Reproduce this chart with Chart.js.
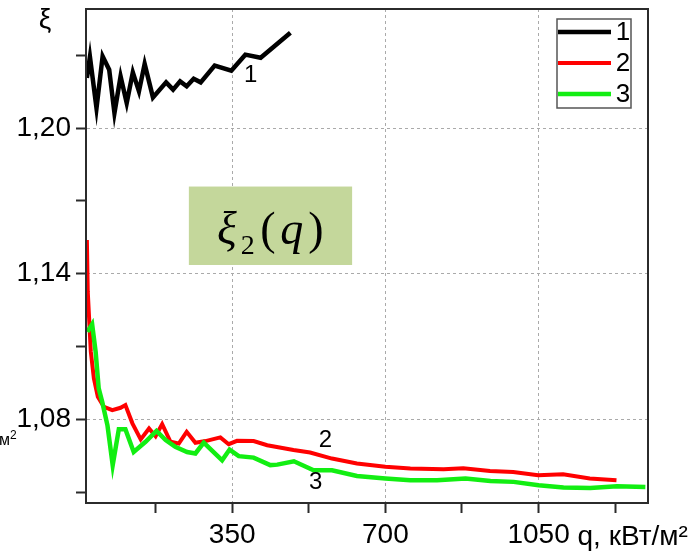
<!DOCTYPE html>
<html><head><meta charset="utf-8">
<script src="https://cdn.jsdelivr.net/npm/chart.js@4.4.0/dist/chart.umd.min.js"></script>
<style>html,body{margin:0;padding:0;background:#fff;overflow:hidden}canvas{display:block}</style>
</head><body>
<canvas id="c" width="691" height="551"></canvas>
<script>
// ---- data ----
const seriesNames = ['1', '2', '3'];
const qBlack = [18, 25, 40, 54, 69, 81, 95, 109, 123, 137, 150, 169, 199, 215, 231, 246, 262, 278, 310, 348, 380, 415, 483];
const xiBlack = [1.2206, 1.2293, 1.2082, 1.2295, 1.2240, 1.2062, 1.2213, 1.2103, 1.2229, 1.2151, 1.2264, 1.2126, 1.2188, 1.2158, 1.2192, 1.2172, 1.2203, 1.2188, 1.2257, 1.2236, 1.2302, 1.2289, 1.2392];
const qRed = [18, 20, 27, 34, 43, 57, 76, 95, 106, 122, 141, 160, 175, 190, 209, 228, 246, 266, 289, 323, 342, 361, 399, 430, 490, 528, 578, 635, 700, 757, 833, 878, 939, 992, 1049, 1106, 1167, 1228];
const xiRed = [1.1539, 1.1326, 1.1079, 1.0969, 1.0893, 1.0852, 1.0838, 1.0848, 1.0859, 1.0784, 1.0718, 1.0763, 1.0731, 1.0781, 1.0708, 1.0701, 1.0749, 1.0704, 1.0711, 1.0726, 1.0698, 1.0712, 1.0711, 1.0694, 1.0674, 1.0664, 1.0639, 1.0619, 1.0605, 1.0598, 1.0595, 1.0599, 1.0588, 1.0584, 1.0570, 1.0574, 1.0557, 1.0550];
const qGreen = [19, 30, 38, 45, 53, 65, 77, 91, 106, 125, 152, 177, 198, 220, 247, 266, 285, 327, 344, 365, 399, 437, 453, 491, 536, 578, 635, 700, 757, 818, 883, 940, 993, 1050, 1107, 1168, 1229, 1294];
const xiGreen = [1.1161, 1.1192, 1.1079, 1.0928, 1.0873, 1.0776, 1.0612, 1.0760, 1.0760, 1.0666, 1.0708, 1.0753, 1.0715, 1.0687, 1.0666, 1.0660, 1.0705, 1.0632, 1.0676, 1.0649, 1.0643, 1.0612, 1.0614, 1.0628, 1.0591, 1.0591, 1.0567, 1.0557, 1.0550, 1.0550, 1.0557, 1.0547, 1.0543, 1.0529, 1.0520, 1.0518, 1.0525, 1.0522];
const xTickValues = [175, 350, 525, 700, 875, 1050, 1225];
const yTickValues = [1.05, 1.08, 1.11, 1.14, 1.17, 1.20, 1.23];
const xTitle = 'q, кВт/м²';
const yTitle = 'ξ';
const leftStray = ['м', '2'];

const FONT = '"Liberation Sans", Arial, sans-serif';
const SERIF = '"Liberation Serif", "DejaVu Serif", serif';
const colors = ['#000000', '#ff0000', '#12ee12'];

const pts = (xs, ys) => xs.map((v, i) => ({x: v, y: ys[i]}));
const isMajorX = v => Math.round(v) % 350 === 0;
const isMajorY = v => Math.round(v * 100) % 6 === 0;

const decor = {
  id: 'decor',
  beforeDatasetsDraw(chart) {
    const {ctx} = chart;
    const xs = chart.scales.x, ys = chart.scales.y;
    const l = xs.getPixelForValue(251), r = xs.getPixelForValue(624);
    const t = ys.getPixelForValue(1.1759), b = ys.getPixelForValue(1.1436);
    ctx.save();
    ctx.setLineDash([]);
    ctx.fillStyle = '#c4d79b';
    ctx.fillRect(l, t, r - l, b - t);
    ctx.fillStyle = '#000';
    ctx.textAlign = 'center';
    ctx.textBaseline = 'alphabetic';
    const base = t + 57;
    ctx.font = 'italic 46px ' + SERIF;
    ctx.fillText('ξ', l + 38, base);
    ctx.font = '28px ' + SERIF;
    ctx.fillText('2', l + 59, base + 10);
    ctx.font = '46px ' + SERIF;
    ctx.fillText('(', l + 79, base);
    ctx.font = 'italic 46px ' + SERIF;
    ctx.fillText('q', l + 103, base);
    ctx.font = '46px ' + SERIF;
    ctx.fillText(')', l + 127, base);
    ctx.restore();
  },
  afterDraw(chart) {
    const {ctx, chartArea: ca} = chart;
    const xs = chart.scales.x, ys = chart.scales.y;
    ctx.save();
    ctx.setLineDash([]);
    // frame
    ctx.strokeStyle = '#2b2b2b';
    ctx.lineWidth = 2;
    ctx.strokeRect(ca.left, ca.top, ca.right - ca.left, ca.bottom - ca.top);
    // legend
    const lx = 557, ly = 19, lw = 74, lh = 89;
    ctx.fillStyle = '#fff';
    ctx.fillRect(lx, ly, lw, lh);
    ctx.strokeStyle = '#555';
    ctx.lineWidth = 1.5;
    ctx.strokeRect(lx, ly, lw, lh);
    const rows = [32, 63, 94];
    const widths = [4.5, 4, 4.5];
    ctx.font = '26px ' + FONT;
    ctx.textAlign = 'center';
    ctx.textBaseline = 'middle';
    seriesNames.forEach((n, i) => {
      ctx.strokeStyle = colors[i];
      ctx.lineWidth = widths[i];
      ctx.beginPath();
      ctx.moveTo(lx + 1, rows[i]);
      ctx.lineTo(lx + 54, rows[i]);
      ctx.stroke();
      ctx.fillStyle = '#000';
      ctx.fillText(n, lx + 66, rows[i] + 1);
    });
    // curve labels
    ctx.font = '24px ' + FONT;
    ctx.fillText(seriesNames[0], xs.getPixelForValue(392), ys.getPixelForValue(1.2218));
    ctx.fillText(seriesNames[1], xs.getPixelForValue(563), ys.getPixelForValue(1.0715));
    ctx.fillText(seriesNames[2], xs.getPixelForValue(541), ys.getPixelForValue(1.0540));
    // axis titles
    ctx.font = '28px ' + FONT;
    ctx.textAlign = 'left';
    ctx.textBaseline = 'alphabetic';
    const w1050 = ctx.measureText('1050').width;
    const sp = ctx.measureText(' ').width;
    ctx.fillText(xTitle, xs.getPixelForValue(1050) + w1050 / 2 + sp, 545);
    ctx.textAlign = 'center';
    ctx.fillText(yTitle, 45, 28);
    ctx.textAlign = 'left';
    ctx.font = '16px ' + FONT;
    ctx.fillText(leftStray[0], -1, 445);
    const wm = ctx.measureText(leftStray[0]).width;
    ctx.font = '12px ' + FONT;
    ctx.fillText(leftStray[1], -1 + wm, 439);
    ctx.restore();
  }
};

const gridOpts = isMajor => ({
  color: c => (c.tick && isMajor(c.tick.value)) ? '#aaaaaa' : 'rgba(0,0,0,0)',
  lineWidth: 1,
  tickColor: '#2b2b2b', tickLength: 10, tickWidth: 2, tickBorderDash: []
});
const borderOpts = {display: true, color: '#2b2b2b', width: 2, dash: [3, 3]};

new Chart(document.getElementById('c'), {
  type: 'line',
  data: {
    datasets: [
      {label: seriesNames[0], data: pts(qBlack, xiBlack), borderColor: colors[0], borderWidth: 4.5, order: 2},
      {label: seriesNames[1], data: pts(qRed, xiRed), borderColor: colors[1], borderWidth: 4, order: 1},
      {label: seriesNames[2], data: pts(qGreen, xiGreen), borderColor: colors[2], borderWidth: 4.5, order: 0}
    ]
  },
  options: {
    responsive: false,
    animation: false,
    devicePixelRatio: 1,
    elements: {point: {radius: 0}, line: {tension: 0, fill: false, borderDash: []}},
    layout: {padding: {left: 0, top: 9, right: 43, bottom: 0}},
    plugins: {legend: {display: false}, tooltip: {enabled: false}},
    scales: {
      x: {
        type: 'linear', min: 16, max: 1300,
        afterBuildTicks: s => { s.ticks = xTickValues.map(v => ({value: v})); },
        afterFit: s => { s.height = 48; s.paddingLeft = 0; s.paddingRight = 0; },
        ticks: {
          autoSkip: false, maxRotation: 0, padding: 5, color: '#000',
          font: {family: FONT, size: 28},
          callback: v => isMajorX(v) ? String(v) : ''
        },
        grid: gridOpts(isMajorX),
        border: borderOpts
      },
      y: {
        type: 'linear', min: 1.0456, max: 1.2490,
        afterBuildTicks: s => { s.ticks = yTickValues.map(v => ({value: v})); },
        afterFit: s => { s.width = 86; s.paddingTop = 0; s.paddingBottom = 0; },
        ticks: {
          autoSkip: false, padding: 5, color: '#000',
          font: {family: FONT, size: 28},
          callback: v => isMajorY(v) ? v.toFixed(2).replace('.', ',') : ''
        },
        grid: gridOpts(isMajorY),
        border: borderOpts
      }
    }
  },
  plugins: [decor]
});
</script>
</body></html>
